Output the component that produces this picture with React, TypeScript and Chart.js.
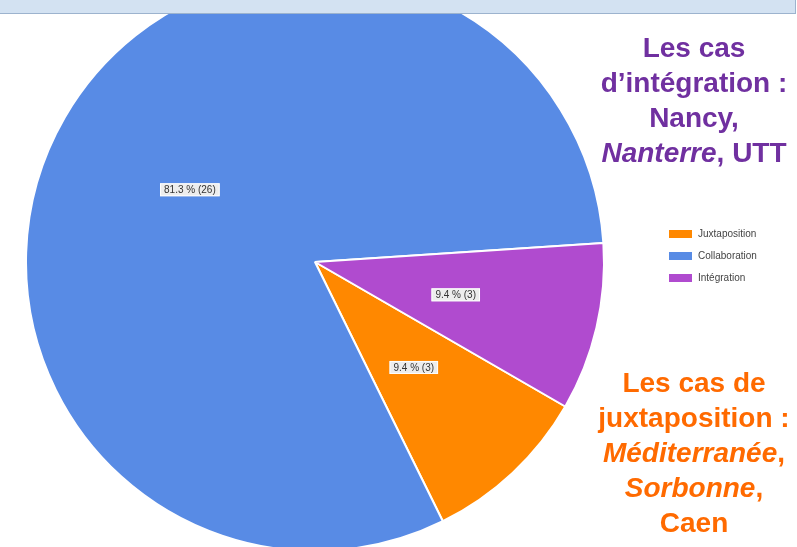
import React, { useEffect, useRef } from "react";
import { Chart, registerables } from "chart.js";

Chart.register(...registerables);

const categories = ["Juxtaposition", "Collaboration", "Intégration"];
const counts = [3, 26, 3];
const colors = ["#FF8800", "#588BE5", "#B04BCF"];

const purpleLines = [
  [{ t: "Les cas", i: false }],
  [{ t: "d’intégration :", i: false }],
  [{ t: "Nancy,", i: false }],
  [
    { t: "Nanterre", i: true },
    { t: ", UTT", i: false },
  ],
];
const orangeLines = [
  [{ t: "Les cas de", i: false }],
  [{ t: "juxtaposition :", i: false }],
  [
    { t: "Méditerranée", i: true },
    { t: ",", i: false },
  ],
  [
    { t: "Sorbonne", i: true },
    { t: ",", i: false },
  ],
  [{ t: "Caen", i: false }],
];

const overlayPlugin = {
  id: "overlay",
  afterDatasetsDraw(chart: any) {
    const ctx = chart.ctx;
    const meta = chart.getDatasetMeta(0);
    const ds = chart.data.datasets[0];
    const total = ds.data.reduce((a: number, b: number) => a + b, 0);
    ctx.save();
    ctx.font = "10px 'Liberation Sans', Arial, sans-serif";
    ctx.textBaseline = "middle";
    ctx.textAlign = "center";
    meta.data.forEach((arc: any, i: number) => {
      const v = ds.data[i];
      const txt = ((v / total) * 100).toFixed(1) + " % (" + v + ")";
      const p = arc.tooltipPosition();
      const w = ctx.measureText(txt).width + 8;
      const h = 13;
      ctx.fillStyle = "#EDEDED";
      ctx.fillRect(p.x - w / 2, p.y - h / 2, w, h);
      ctx.strokeStyle = "rgba(255,255,255,0.9)";
      ctx.lineWidth = 1;
      ctx.strokeRect(p.x - w / 2 + 0.5, p.y - h / 2 + 0.5, w - 1, h - 1);
      ctx.fillStyle = "#333333";
      ctx.fillText(txt, p.x, p.y + 0.5);
    });
    // legend
    const lx = 669;
    const ly = 234;
    chart.data.labels.forEach((lab: string, i: number) => {
      const y = ly + i * 22;
      ctx.fillStyle = ds.backgroundColor[i];
      ctx.fillRect(lx, y - 4, 23, 8);
      ctx.fillStyle = "#444444";
      ctx.textAlign = "left";
      ctx.font = "10px 'Liberation Sans', Arial, sans-serif";
      ctx.fillText(lab, lx + 29, y + 0.5);
    });
    ctx.restore();
  },
};

function TextBlock({ lines, color, top }: { lines: any[]; color: string; top: number }) {
  return (
    <div
      style={{
        position: "absolute",
        left: 594,
        width: 200,
        top,
        textAlign: "center",
        color,
        fontFamily: "'Liberation Sans', Arial, sans-serif",
        fontWeight: "bold",
        fontSize: 28,
        lineHeight: "35px",
        whiteSpace: "nowrap",
      }}
    >
      {lines.map((parts: any[], k: number) => (
        <div key={k}>
          {parts.map((p: any, j: number) => (
            <span key={j} style={{ fontStyle: p.i ? "italic" : "normal" }}>
              {p.t}
            </span>
          ))}
        </div>
      ))}
    </div>
  );
}

export default function App() {
  const ref = useRef<HTMLCanvasElement>(null);
  useEffect(() => {
    if (!ref.current) return;
    const chart = new Chart(ref.current, {
      type: "pie",
      data: {
        labels: categories,
        datasets: [
          {
            data: counts,
            backgroundColor: colors,
            borderColor: "#FFFFFF",
            borderWidth: 2,
            clip: false,
          } as any,
        ],
      },
      options: {
        responsive: false,
        animation: false,
        devicePixelRatio: 1,
        rotation: 120,
        radius: 289,
        layout: { padding: { left: 0, right: 167, top: 0, bottom: 23 } },
        plugins: {
          legend: { display: false },
          tooltip: { enabled: false },
        },
      } as any,
      plugins: [overlayPlugin],
    });
    return () => chart.destroy();
  }, []);

  return (
    <div
      style={{
        position: "absolute",
        left: 0,
        top: 0,
        width: 797,
        height: 547,
        overflow: "hidden",
        background: "#FFFFFF",
      }}
    >
      <canvas ref={ref} width={797} height={547} style={{ display: "block", position: "absolute", left: 0, top: 0 }} />
      <div
        style={{
          position: "absolute",
          left: 0,
          top: 0,
          width: 795,
          height: 13,
          background: "#D3E2F2",
          borderBottom: "1px solid #9CB3CE",
          borderRight: "1px solid #9CB3CE",
        }}
      />
      <TextBlock lines={purpleLines} color="#7030A0" top={30} />
      <TextBlock lines={orangeLines} color="#FF6A00" top={365} />
    </div>
  );
}
